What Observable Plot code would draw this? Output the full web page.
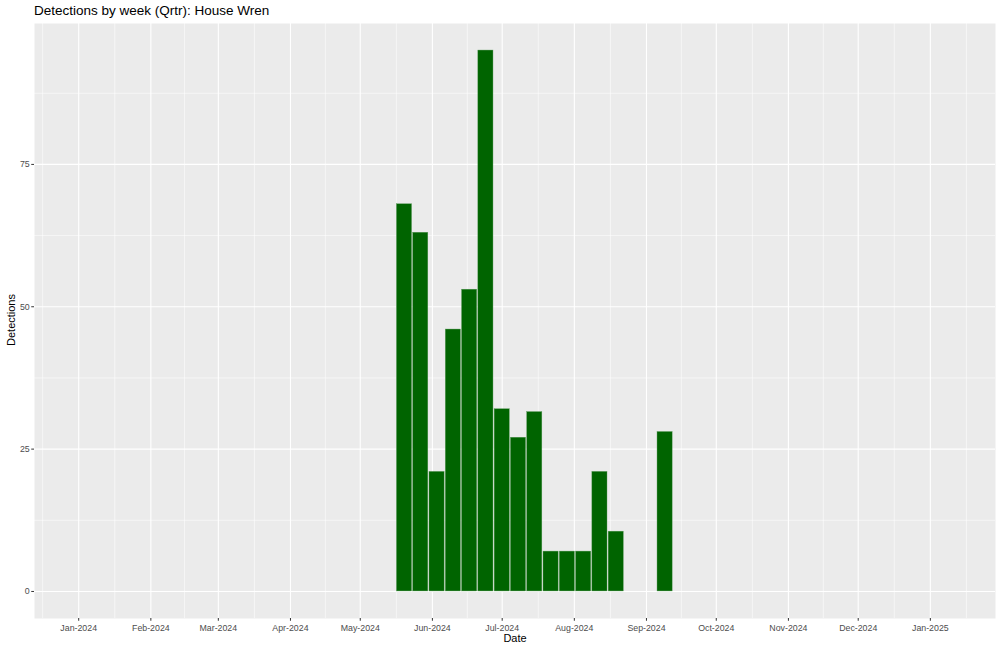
<!DOCTYPE html>
<html>
<head>
<meta charset="utf-8">
<script src="https://cdn.jsdelivr.net/npm/d3@7"></script>
<script src="https://cdn.jsdelivr.net/npm/@observablehq/plot@0.6"></script>
<style>
  html, body { margin: 0; padding: 0; background: #ffffff; }
  body { width: 1000px; height: 651px; overflow: hidden; position: relative; font-family: "Liberation Sans", Arial, Helvetica, sans-serif; }
  #title { height: 23px; line-height: 22px; padding-left: 34px; font-size: 13.5px; color: #000; box-sizing: border-box; }
  #chart svg { display: block; }
  #ylab { position: absolute; left: 11px; top: 320px; transform: translate(-50%, -50%) rotate(-90deg); font-size: 11px; color: #000; white-space: nowrap; }
</style>
</head>
<body>
<div id="title">Detections by week (Qrtr): House Wren</div>
<div id="chart"></div>
<div id="ylab">Detections</div>
<script>
// Week start dates (Mondays) and detections
const weeks = ["2024-05-20","2024-05-27","2024-06-03","2024-06-10","2024-06-17","2024-06-24",
               "2024-07-01","2024-07-08","2024-07-15","2024-07-22","2024-07-29","2024-08-05",
               "2024-08-12","2024-08-19","2024-09-09"];
const detections = [68, 63, 21, 46, 53, 95, 32, 27, 31.5, 7, 7, 7, 21, 10.5, 28];

// Axis ticks
const monthTicks = ["2024-01-01","2024-02-01","2024-03-01","2024-04-01","2024-05-01","2024-06-01",
                    "2024-07-01","2024-08-01","2024-09-01","2024-10-01","2024-11-01","2024-12-01","2025-01-01"];
const yTicks = [0, 25, 50, 75];
const yMinor = [12.5, 37.5, 62.5, 87.5];

const DAY = 86400000;
const parse = s => new Date(s + "T00:00:00Z");
const data = weeks.map((w, i) => ({date: parse(w), value: detections[i]}));
const majorX = monthTicks.map(parse);
const allMajor = [new Date(Date.UTC(2023, 11, 1)), ...majorX, new Date(Date.UTC(2025, 1, 1))];
const minorX = [];
for (let i = 0; i < allMajor.length - 1; i++) {
  minorX.push(new Date((+allMajor[i] + +allMajor[i + 1]) / 2));
}
const xDomain = [parse("2023-12-13"), parse("2025-01-29")];
const minorXIn = minorX.filter(d => d >= xDomain[0] && d <= xDomain[1]);

const halfW = 3.25 * DAY;

const chart = Plot.plot({
  width: 1000,
  height: 628,
  marginLeft: 34,
  marginRight: 5,
  marginTop: 0,
  marginBottom: 33,
  style: {fontFamily: '"Liberation Sans", Arial, Helvetica, sans-serif', background: "#ffffff"},
  x: {type: "utc", domain: xDomain},
  y: {domain: [-4.75, 99.75]},
  marks: [
    Plot.frame({fill: "#EBEBEB", stroke: null}),
    Plot.ruleX(minorXIn, {stroke: "#ffffff", strokeWidth: 0.55}),
    Plot.ruleY(yMinor, {stroke: "#ffffff", strokeWidth: 0.55}),
    Plot.ruleX(majorX, {stroke: "#ffffff", strokeWidth: 1.1}),
    Plot.ruleY(yTicks, {stroke: "#ffffff", strokeWidth: 1.1}),
    Plot.rectY(data, {
      x1: d => new Date(+d.date - halfW),
      x2: d => new Date(+d.date + halfW),
      y1: 0,
      y2: "value",
      fill: "#006400",
      stroke: "#5a9a5a",
      strokeWidth: 0.4
    }),
    Plot.axisX(majorX, {
      tickFormat: d3.utcFormat("%b-%Y"),
      tickSize: 2.75,
      tickPadding: 3,
      fontSize: 8.8,
      stroke: "#333333",
      fill: "#4D4D4D",
      label: null
    }),
    Plot.axisY(yTicks, {
      tickSize: 2.75,
      tickPadding: 2,
      fontSize: 8.8,
      stroke: "#333333",
      fill: "#4D4D4D",
      label: null
    }),
    Plot.text(["Date"], {frameAnchor: "bottom", dy: 23, fontSize: 11, fill: "#000000"})
  ]
});
document.getElementById("chart").appendChild(chart);
</script>
</body>
</html>
